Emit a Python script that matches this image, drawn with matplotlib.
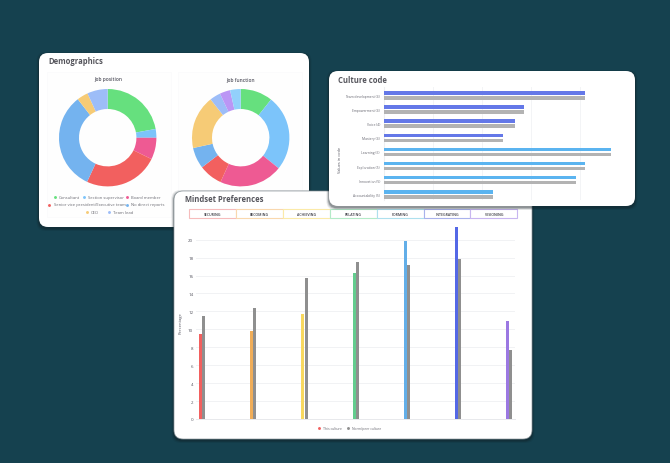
import matplotlib
matplotlib.use("Agg")
import matplotlib.pyplot as plt
from matplotlib.patches import FancyBboxPatch, Rectangle

W, H = 670, 464
FONT = "Open Sans"
plt.rcParams["font.family"] = [FONT, "DejaVu Sans"]

# ---- data ----
position_labels = ["Consultant", "Section supervisor", "Board member",
                   "Senior vice president/Executive team", "No direct reports", "CEO", "Team lead"]
position_values = [22.1, 2.9, 7.2, 24.7, 32.5, 3.7, 6.8]
position_colors = ["#66e07e", "#7cc4fa", "#ee5a93", "#f2605f", "#74b3ef", "#f6cb76", "#9dbdf8"]

function_values = [10.7, 25.1, 21.0, 7.8, 7.0, 17.8, 3.6, 3.5, 3.5]
function_colors = ["#66e07e", "#7cc4fa", "#ee5a93", "#f2605f", "#74b3ef", "#f6cb76", "#9dbdf8", "#bb96f5", "#92d0fb"]

culture_labels = ["Team development (4)", "Empowerment (4)", "Voice (4)", "Mastery (4)",
                  "Learning (5)", "Exploration (5)", "Innovation (5)", "Accountability (5)"]
culture_values = [20.5, 14.3, 13.4, 12.1, 23.2, 20.5, 19.6, 11.1]
culture_colors = ["#6478e8"] * 4 + ["#5bb4f0"] * 4
culture_ticks = [0, 5, 10, 15, 20, 25]

mindset_labels = ["SECURING", "BECOMING", "ACHIEVING", "RELATING", "FORMING", "INTEGRATING", "VISIONING"]
mindset_this = [9.5, 9.85, 11.75, 16.3, 19.85, 21.4, 10.9]
mindset_norm = [11.5, 12.4, 15.7, 17.5, 17.2, 17.8, 7.7]
mindset_colors = ["#f2605f", "#f0ad58", "#f8d85e", "#63cc8e", "#62aee8", "#5468e6", "#9b78e2"]
mindset_tab_edges = ["#f6bcbc", "#f9d8ae", "#fbeaa8", "#b4ebc8", "#aee0ee", "#a9b2ec", "#c8b6f0"]
mindset_ticks = list(range(0, 21, 2))

fig = plt.figure(figsize=(W / 100, H / 100), dpi=100, facecolor="#15414f")
bg = fig.add_axes([0, 0, 1, 1], zorder=0)
bg.set_xlim(0, W); bg.set_ylim(H, 0); bg.axis("off")


def ax_px(x0, y0, x1, y1, z):
    return fig.add_axes([x0 / W, 1 - y1 / H, (x1 - x0) / W, (y1 - y0) / H], zorder=z)


def card(x0, y0, x1, y1, z, title, tx, ty, edge="none"):
    a = ax_px(0, 0, W, H, z)
    a.set_xlim(0, W); a.set_ylim(H, 0); a.axis("off"); a.patch.set_alpha(0)
    r = 9
    for off, alpha in ((2.5, 0.10), (1.6, 0.18), (0.8, 0.28)):
        a.add_patch(FancyBboxPatch((x0 + r - off, y0 + r - off + 1.5), x1 - x0 - 2 * r + 2 * off, y1 - y0 - 2 * r + 2 * off,
                                   boxstyle=f"round,pad={r}", fc="#101c22", ec="none", alpha=alpha))
    a.add_patch(FancyBboxPatch((x0 + r, y0 + r), x1 - x0 - 2 * r, y1 - y0 - 2 * r,
                               boxstyle=f"round,pad={r}", fc="white", ec=edge, lw=0.5))
    a.text(tx, ty, title, fontsize=5.5, fontweight="bold", color="#55555c", va="center", ha="left")
    return a


# ---- Demographics ----
c1 = card(39, 54, 309, 228, 1, "Demographics", 48, 61)
c1.add_patch(Rectangle((47, 73), 124, 145, fc="#fefefe", ec="#fbfbfc", lw=0.6))
c1.add_patch(Rectangle((178, 73), 124, 145, fc="#fefefe", ec="#fbfbfc", lw=0.6))
c1.text(108, 79.5, "Job position", fontsize=3.5, fontweight="semibold", color="#555560", ha="center", va="center")
c1.text(240.5, 79.5, "Job function", fontsize=3.5, fontweight="semibold", color="#555560", ha="center", va="center")


def donut(cx, cy, values, colors, z):
    R = 48.7
    a = ax_px(cx - R, cy - R, cx + R, cy + R, z)
    a.pie(values, colors=colors, startangle=90, counterclock=False, radius=1,
          wedgeprops=dict(width=20 / 48.7, linewidth=0))
    a.set_xlim(-1, 1); a.set_ylim(-1, 1); a.patch.set_alpha(0)


donut(107.7, 138.7, position_values, position_colors, 1.1)
donut(240.7, 138.7, function_values, function_colors, 1.1)

legend_rows = [
    [(0, 54.5, 59), (1, 84, 88), (2, 127, 131)],
    [(3, 49, 53.5), (4, 126.5, 131)],
    [(5, 87, 91), (6, 108.5, 113)],
]
for row, y in zip(legend_rows, (198, 205.5, 213)):
    for i, mx, tx in row:
        c1.plot([mx], [y], "o", ms=2.1, color=position_colors[i], mew=0)
        c1.text(tx, y, position_labels[i], fontsize=2.95, color="#6a6a72", va="center", ha="left")
c1.set_xlim(0, W); c1.set_ylim(H, 0)

# ---- Mindset Preferences ----
c3 = card(174, 192, 532, 440, 2, "Mindset Preferences", 185, 200, edge="#8d979c")
tab_x0, tab_w = 189, 46.9
for i, (lab, ec) in enumerate(zip(mindset_labels, mindset_tab_edges)):
    c3.add_patch(Rectangle((tab_x0 + i * tab_w, 210.3), tab_w, 9, fc="white", ec=ec, lw=0.8))
    c3.text(tab_x0 + (i + 0.5) * tab_w, 214.9, lab, fontsize=2.5, fontweight="semibold",
            color="#3c3c44", ha="center", va="center")

m = ax_px(196, 240.7, 515, 420, 2.1)
m.patch.set_alpha(0)
xpos = list(range(len(mindset_labels)))
bw = 0.058
m.bar([x - bw / 2 - 0.002 for x in xpos], mindset_this, width=bw, color=mindset_colors, zorder=3)
m.bar([x + bw / 2 + 0.002 for x in xpos], mindset_norm, width=bw, color="#8f8f8f", zorder=3)
m.set_xlim(-0.117, 6.11)
m.set_ylim(0, 20)
m.set_yticks(mindset_ticks)
m.set_xticks([])
m.grid(axis="y", color="#f1f2f4", lw=0.7, zorder=0)
m.tick_params(axis="y", length=0, labelsize=3.2, labelcolor="#555560", pad=2)
for s in m.spines.values():
    s.set_visible(False)
m.spines["bottom"].set_visible(True)
m.spines["bottom"].set_color("#e8e9ec")
m.spines["bottom"].set_linewidth(0.7)
for b in list(m.patches):
    b.set_clip_on(False)
m.set_ylabel("Percentage", fontsize=3.0, color="#555560")
m.yaxis.set_label_coords(-0.041, 0.54)

c3.plot([318.7], [429], "o", ms=2.1, color="#f2605f", mew=0)
c3.text(322.7, 429, "This culture", fontsize=2.5, color="#6a6a72", va="center", ha="left")
c3.plot([348], [429], "o", ms=2.1, color="#8f8f8f", mew=0)
c3.text(351.7, 429, "Norm/peer culture", fontsize=2.4, color="#6a6a72", va="center", ha="left")
c3.set_xlim(0, W); c3.set_ylim(H, 0)

# ---- Culture code ----
c2 = card(329, 72, 635, 207, 3, "Culture code", 338, 80.5)
u = ax_px(384, 88, 629, 201, 3.1)
u.patch.set_alpha(0)
ys = list(range(len(culture_labels)))
u.barh([y - 0.177 for y in ys], culture_values, height=0.25, color=culture_colors, zorder=3)
u.barh([y + 0.177 for y in ys], culture_values, height=0.25, color="#b3b3b3", zorder=3)
u.set_yticks(ys)
u.set_yticklabels(culture_labels)
u.set_ylim(7.4, -0.6)
u.set_xlim(0, 25)
u.set_xticks(culture_ticks)
u.tick_params(axis="x", length=0, labelbottom=False)
u.tick_params(axis="y", length=0, labelsize=2.4, labelcolor="#666670", pad=3)
u.grid(axis="x", color="#f3f4f6", lw=0.7, zorder=0)
for s in u.spines.values():
    s.set_visible(False)
u.spines["left"].set_visible(True)
u.spines["left"].set_color("#eeeff1")
u.set_ylabel("Values in code", fontsize=2.8, color="#555560")
u.yaxis.set_label_coords(-0.171, 0.363)

fig.savefig("out.png", dpi=100, facecolor=fig.get_facecolor())
